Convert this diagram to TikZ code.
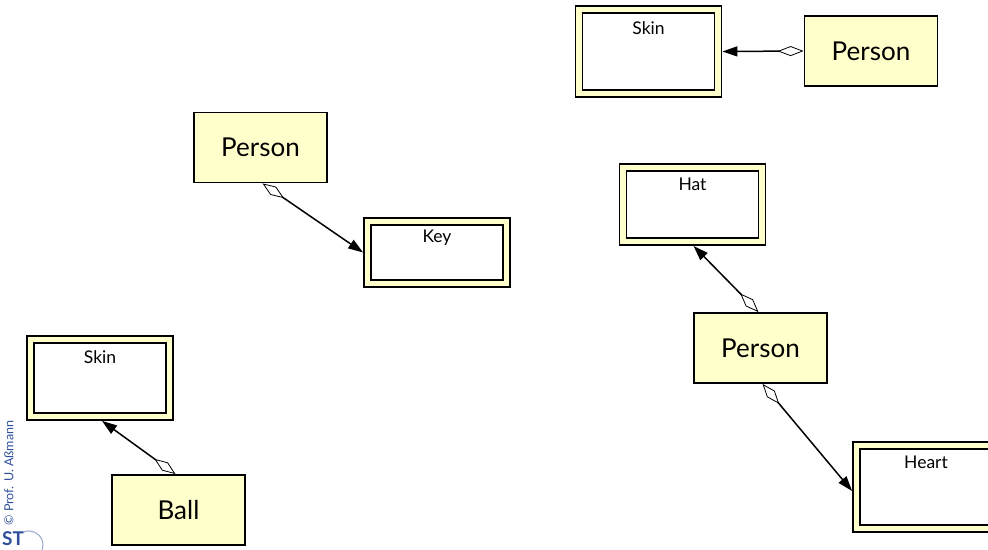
\documentclass[tikz,border=0pt]{standalone}
\usepackage{fontspec}
\setmainfont{Lato}
\usetikzlibrary{arrows.meta}
\definecolor{boxyellow}{HTML}{FFFFCC}
\definecolor{stblue}{HTML}{2F4F9A}
\tikzset{
  cls/.style={draw=black, line width=1.8pt, fill=boxyellow, rectangle, inner sep=0pt,
    minimum width=133pt, minimum height=70pt, font=\fontsize{26}{29}\selectfont},
  part/.style={draw=black, line width=1.8pt, fill=boxyellow, rectangle, inner sep=0pt,
    minimum width=146pt},
  inner/.style={draw=black, line width=1.5pt, fill=white},
  partlabel/.style={font=\fontsize{17.5}{19}\selectfont, inner sep=0pt, anchor=center},
  agg/.style={line width=1.5pt, {Diamond[open, length=26pt, width=10pt, line width=0.8pt]}-{Triangle[length=15pt, width=10pt]}}
}
\newcommand{\innerbox}[1]{\draw[inner] ([xshift=8pt,yshift=-8pt]#1.north west) rectangle ([xshift=-8pt,yshift=8pt]#1.south east);}
\begin{document}
\begin{tikzpicture}[x=1pt,y=-1pt]
\useasboundingbox (0,0) rectangle (988,549);
\clip (0,0) rectangle (988,549);
% top right
\node[part, minimum height=91pt] (skinA) at (648.5,51.5) {};
\innerbox{skinA}
\node[partlabel] (skinAt) at ([yshift=-23pt]skinA.north) {Skin};
\node[cls] (personA) at (871,51) {Person};
\draw[agg] (personA.west) -- (skinA.east);
% middle left
\node[cls] (personB) at (260.5,147.5) {Person};
\node[part, minimum height=69pt] (key) at (437,252.5) {};
\innerbox{key}
\node[partlabel] (keyt) at ([yshift=-21pt]key.north) {Key};
\draw[agg] ([xshift=2pt]personB.south) -- (key.west);
% lower left
\node[part, minimum height=84pt] (skinB) at (100,378) {};
\innerbox{skinB}
\node[partlabel] (skinBt) at ([yshift=-22pt]skinB.north) {Skin};
\node[cls] (ball) at (178.5,510) {Ball};
\draw[agg] ([xshift=-3pt]ball.north) -- ([xshift=2pt]skinB.south);
% right
\node[part, minimum height=81pt] (hat) at (692.5,204.5) {};
\innerbox{hat}
\node[partlabel] (hatt) at ([yshift=-21pt]hat.north) {Hat};
\node[cls] (personC) at (760.5,348) {Person};
\draw[agg] ([xshift=-2pt]personC.north) -- ([xshift=1pt]hat.south);
\node[part, minimum height=90pt] (heart) at (926,487) {};
\innerbox{heart}
\node[partlabel] (heartt) at ([yshift=-21pt]heart.north) {Heart};
\draw[agg] ([xshift=2pt]personC.south) -- ([yshift=-4pt]heart.west);
% watermark
\node[rotate=90, text=stblue, font=\fontsize{12.5}{13}\selectfont, inner sep=0pt] (copy) at (9,473) {© Prof. U. Aßmann};
\node[text=stblue, font=\bfseries\fontsize{19}{19}\selectfont, inner sep=0pt] (st) at (13,539) {ST};
\draw[stblue!50, line width=1pt] (st.north east) arc[start angle=110, end angle=-30, radius=14pt];
\end{tikzpicture}
\end{document}
